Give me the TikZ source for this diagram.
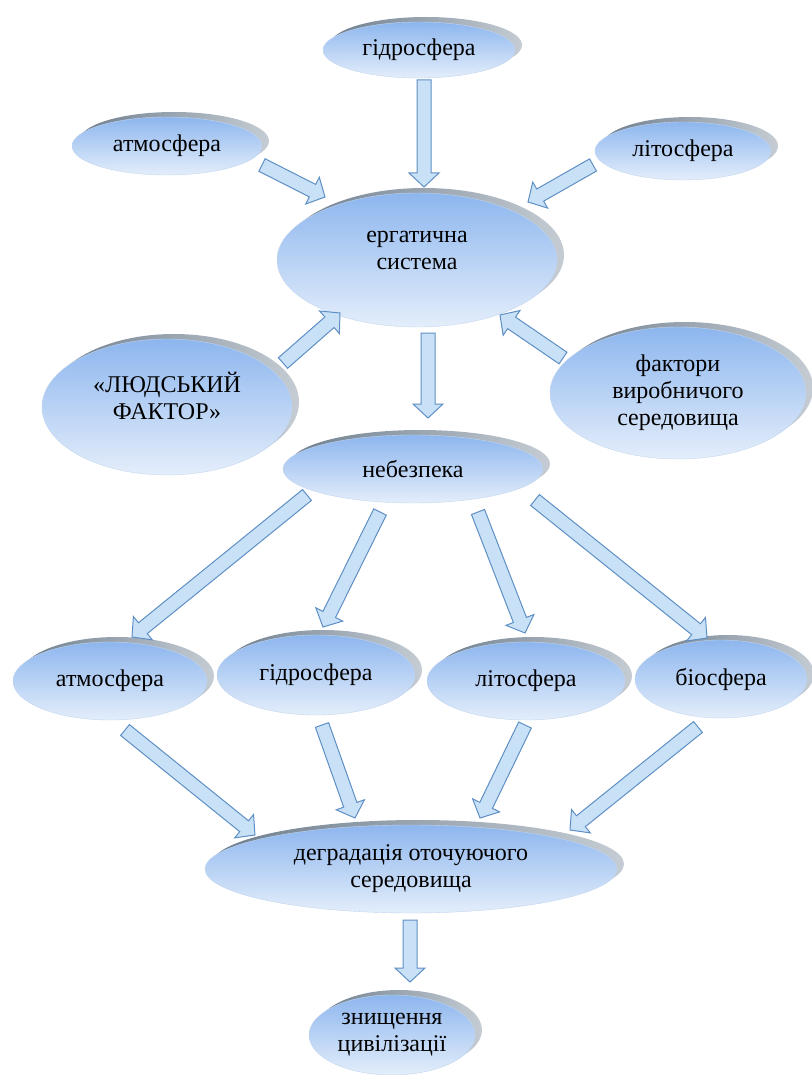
\documentclass[tikz,border=0pt]{standalone}
\usepackage{fontspec}
\setmainfont{Liberation Serif}
\usetikzlibrary{shapes.geometric, calc}

\definecolor{bubtop}{HTML}{8DB6EE}
\definecolor{bubbot}{HTML}{E4EEFB}
\definecolor{bubedge}{HTML}{C2D5EE}
\definecolor{shadeA}{HTML}{6E7E8E}
\definecolor{shadeB}{HTML}{C5CCD3}
\definecolor{flowfill}{HTML}{C9E1F7}
\definecolor{flowline}{HTML}{5E8FC4}

% hollow block arrow from #1 (tail) to #2 (tip)
\newcommand{\blockarrow}[2]{%
  \draw[flow] let \p1=#1, \p2=#2,
      \n1={atan2(\y2-\y1,\x2-\x1)}, \n2={veclen(\x2-\x1,\y2-\y1)} in
    ($(\p1)+(\n1-90:7pt)$) -- ($(\p1)+(\n1:\n2-14pt)+(\n1-90:7pt)$)
    -- ($(\p1)+(\n1:\n2-14pt)+(\n1-90:15pt)$) -- (\p2)
    -- ($(\p1)+(\n1:\n2-14pt)+(\n1+90:15pt)$)
    -- ($(\p1)+(\n1:\n2-14pt)+(\n1+90:7pt)$)
    -- ($(\p1)+(\n1+90:7pt)$) -- cycle;}

\begin{document}
\begin{tikzpicture}[x=1pt, y=-1pt,
    txt/.style={align=center, font=\fontsize{24}{27}\selectfont},
    bubble/.style={ellipse, inner sep=0pt, txt,
        top color=bubtop, bottom color=bubbot, draw=bubedge, line width=.4pt,
        preaction={left color=shadeA, right color=shadeB,
            transform canvas={xshift=7pt, yshift=5pt}}},
    dims/.style 2 args={minimum width=#1pt, minimum height=#2pt},
    flow/.style={draw=flowline, fill=flowfill, line width=1pt, line join=miter}]
    \useasboundingbox (0,0) rectangle (811,1075);

    \node[bubble, dims={192}{56}] (hydT) at (419,50) {гідросфера};
    \node[bubble, dims={190}{58}] (atmT) at (167,146) {атмосфера};
    \node[bubble, dims={176}{58}] (litT) at (683,151) {літосфера};
    \node[bubble, dims={280}{134},
        label={[txt, yshift=10pt]center:{ергатична\\система}}] (erg) at (417,260) {};
    \node[bubble, dims={250}{136},
        label={[txt, yshift=11pt]center:{«ЛЮДСЬКИЙ\\ФАКТОР»}}] (human) at (167,407) {};
    \node[bubble, dims={256}{132}] (factors) at (678,393) {фактори\\виробничого\\середовища};
    \node[bubble, dims={260}{68}] (danger) at (413,469) {небезпека};

    \node[bubble, dims={194}{78}] (atmB) at (110,681) {атмосфера};
    \node[bubble, dims={198}{80}] (hydB) at (316,675) {гідросфера};
    \node[bubble, dims={198}{78}] (litB) at (526,681) {літосфера};
    \node[bubble, dims={172}{78}] (bioB) at (721,679) {біосфера};

    \node[bubble, dims={412}{88}] (degr) at (411,869) {деградація оточуючого\\середовища};
    \node[bubble, dims={166}{80}] (destr) at (392,1035) {знищення\\цивілізації};

    \blockarrow{($(hydT)+(5,30)$)}{($(erg)+(7,-73)$)}
    \blockarrow{($(atmT)+(95,19)$)}{($(erg)+(-92,-63)$)}
    \blockarrow{($(litT)+(-90,14)$)}{($(erg)+(111,-58)$)}
    \blockarrow{($(human)+(116,-44)$)}{($(erg)+(-77,53)$)}
    \blockarrow{($(factors)+(-115,-35)$)}{($(erg)+(83,55)$)}
    \blockarrow{($(erg)+(11,73)$)}{($(danger)+(15,-51)$)}

    \blockarrow{($(danger)+(-106,26)$)}{($(atmB)+(22,-44)$)}
    \blockarrow{($(danger)+(-33,43)$)}{($(hydB)+(7,-48)$)}
    \blockarrow{($(danger)+(65,43)$)}{($(litB)+(-1,-48)$)}
    \blockarrow{($(danger)+(122,31)$)}{($(bioB)+(-14,-41)$)}

    \blockarrow{($(atmB)+(15,49)$)}{($(degr)+(-156,-34)$)}
    \blockarrow{($(hydB)+(6,50)$)}{($(degr)+(-56,-51)$)}
    \blockarrow{($(litB)+(-1,44)$)}{($(degr)+(69,-51)$)}
    \blockarrow{($(bioB)+(-23,48)$)}{($(degr)+(159,-39)$)}
    \blockarrow{($(degr)+(-1,51)$)}{($(destr)+(18,-53)$)}

\end{tikzpicture}
\end{document}
